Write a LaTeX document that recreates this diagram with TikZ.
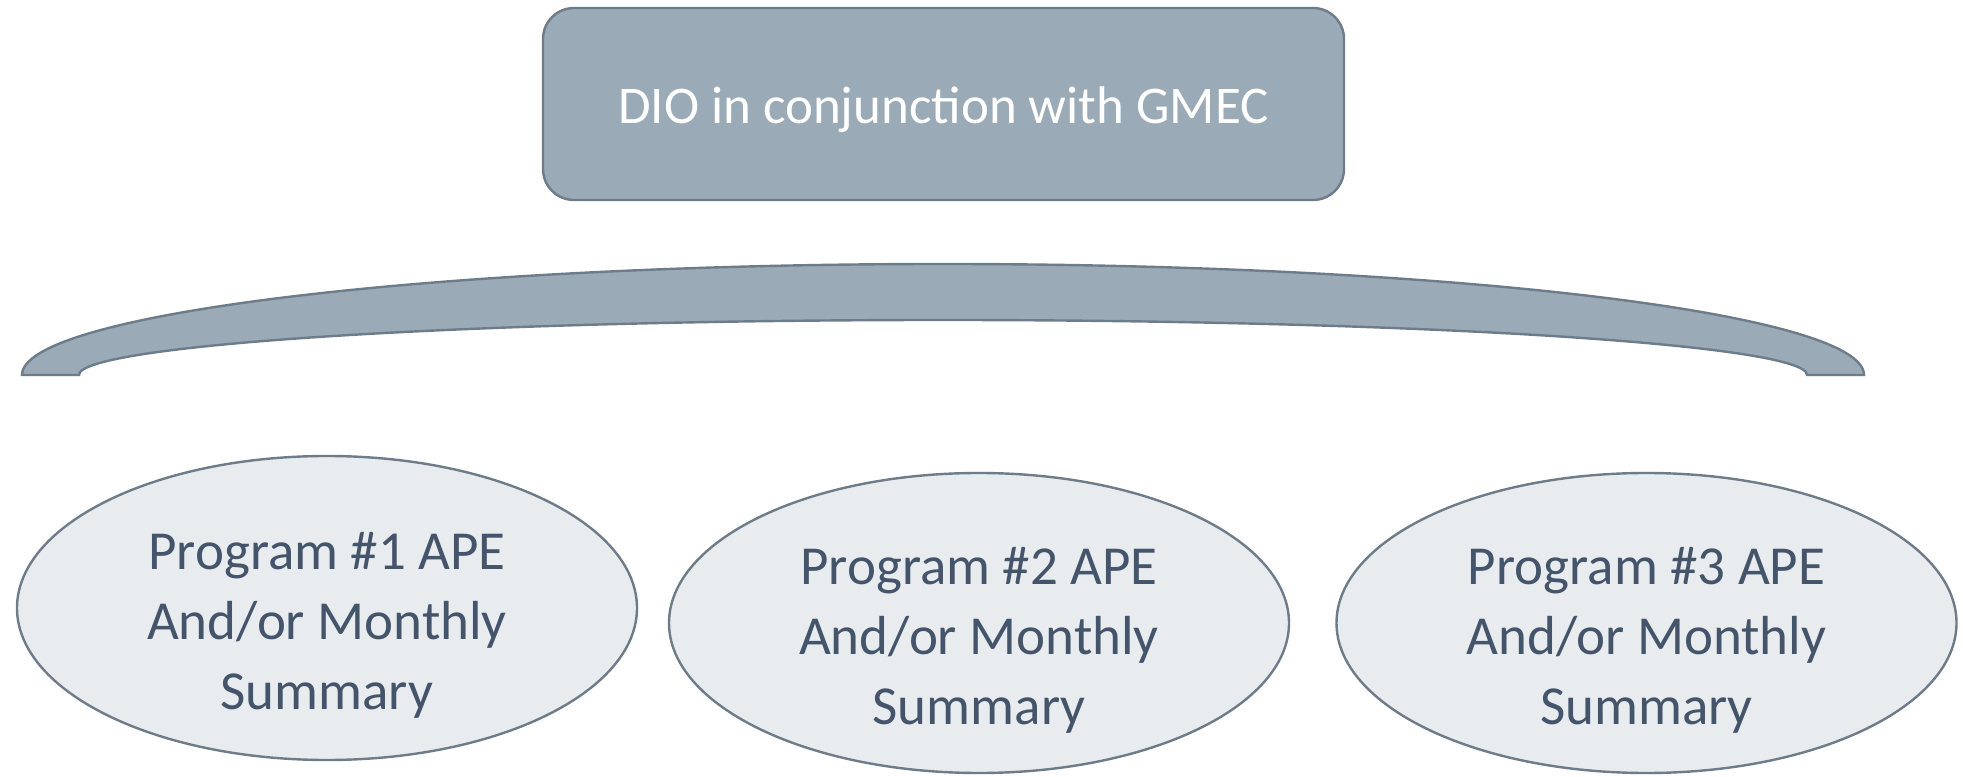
\documentclass[tikz,border=0pt]{standalone}
\usepackage{fontspec}
\setmainfont{Carlito}
\usetikzlibrary{shapes.geometric}
\definecolor{slatefill}{HTML}{9AAAB6}
\definecolor{slateline}{HTML}{6E7B88}
\definecolor{palefill}{HTML}{E8ECEF}
\definecolor{inktext}{HTML}{44546A}
\tikzset{
  headbox/.style={draw=slateline, line width=1.2pt, fill=slatefill, rounded corners=15.5pt,
    minimum width=400.5pt, minimum height=96pt, inner sep=0pt},
  headtext/.style={text=white, inner sep=0pt, font=\fontsize{26.5}{33}\selectfont},
  arch/.style={draw=slateline, line width=1.2pt, fill=slatefill},
  prog/.style={ellipse, draw=slateline, line width=1.2pt, fill=palefill, inner sep=0pt,
    minimum width=310pt},
  progtext/.style={text=inktext, align=center, inner sep=0pt,
    font=\fontsize{27.5}{35}\selectfont}
}
\begin{document}
\begin{tikzpicture}[x=0.5pt, y=0.5pt]
  \useasboundingbox (0,0) rectangle (1963,776);

  % coordinating body
  \node[headbox] (dio) at (943.5,672) {};
  \node[headtext] (diotext) at ([yshift=-2.75pt]dio.center) {DIO in conjunction with GMEC};

  % block arc spanning the programs
  \draw[arch] (22,401) arc[start angle=180, end angle=0, x radius=921, y radius=111]
    -- (1807,401) arc[start angle=0, end angle=180, x radius=864, y radius=55]
    -- cycle;

  % programs
  \node[prog, minimum height=152pt] (p1) at (327,168) {};
  \node[prog, minimum height=150pt] (p2) at (979,153) {};
  \node[prog, minimum height=150pt] (p3) at (1646.5,153) {};

  \node[progtext] (p1text) at ([yshift=-8.5pt]p1.center) {Program \#1 APE\\And/or Monthly\\Summary};
  \node[progtext] (p2text) at ([yshift=-8.5pt]p2.center) {Program \#2 APE\\And/or Monthly\\Summary};
  \node[progtext] (p3text) at ([yshift=-8.5pt]p3.center) {Program \#3 APE\\And/or Monthly\\Summary};
\end{tikzpicture}
\end{document}
